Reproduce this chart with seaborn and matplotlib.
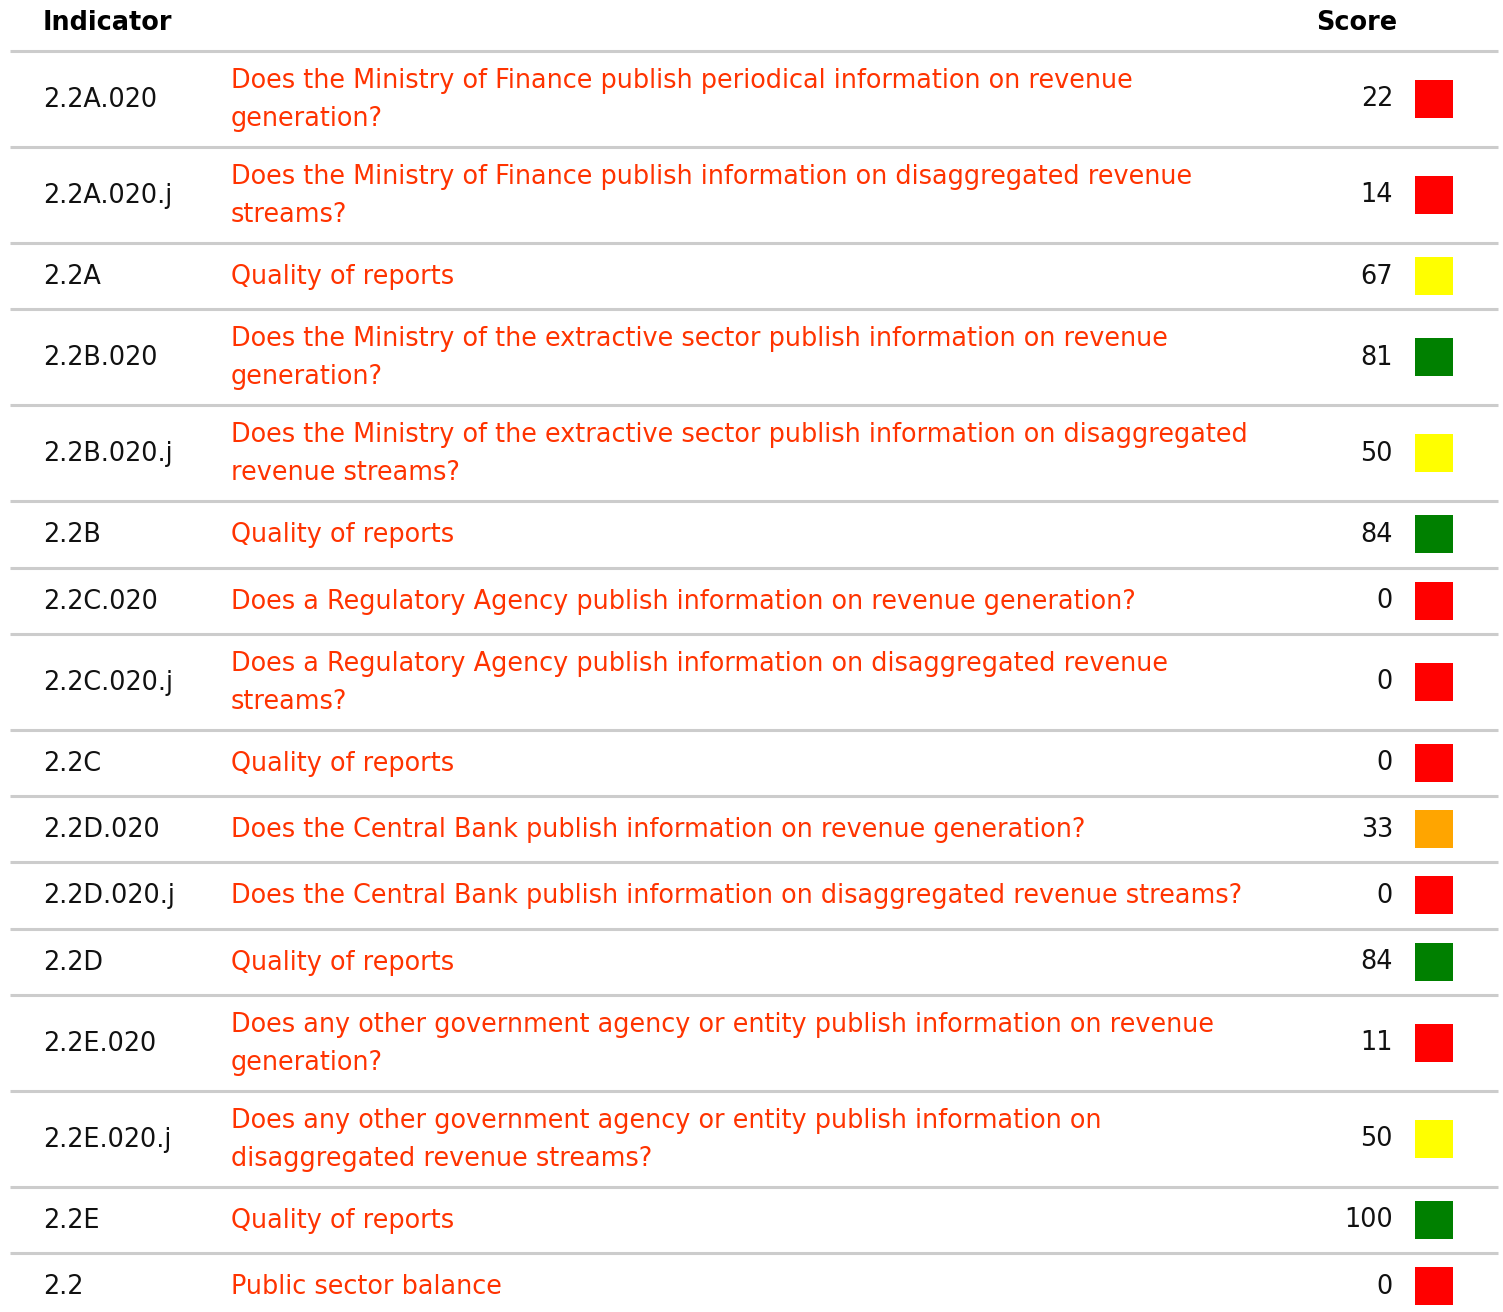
import matplotlib
matplotlib.use("Agg")
import matplotlib.pyplot as plt
import seaborn as sns
import pandas as pd

codes = ["2.2A.020", "2.2A.020.j", "2.2A", "2.2B.020", "2.2B.020.j", "2.2B",
         "2.2C.020", "2.2C.020.j", "2.2C", "2.2D.020", "2.2D.020.j", "2.2D",
         "2.2E.020", "2.2E.020.j", "2.2E", "2.2"]
questions = [
    "Does the Ministry of Finance publish periodical information on revenue\ngeneration?",
    "Does the Ministry of Finance publish information on disaggregated revenue\nstreams?",
    "Quality of reports",
    "Does the Ministry of the extractive sector publish information on revenue\ngeneration?",
    "Does the Ministry of the extractive sector publish information on disaggregated\nrevenue streams?",
    "Quality of reports",
    "Does a Regulatory Agency publish information on revenue generation?",
    "Does a Regulatory Agency publish information on disaggregated revenue\nstreams?",
    "Quality of reports",
    "Does the Central Bank publish information on revenue generation?",
    "Does the Central Bank publish information on disaggregated revenue streams?",
    "Quality of reports",
    "Does any other government agency or entity publish information on revenue\ngeneration?",
    "Does any other government agency or entity publish information on\ndisaggregated revenue streams?",
    "Quality of reports",
    "Public sector balance",
]
scores = [22, 14, 67, 81, 50, 84, 0, 0, 0, 33, 0, 84, 11, 50, 100, 0]
score_colors = ["#ff0000", "#ff0000", "#ffff00", "#008000", "#ffff00", "#008000",
                "#ff0000", "#ff0000", "#ff0000", "#ffa500", "#ff0000", "#008000",
                "#ff0000", "#ffff00", "#008000", "#ff0000"]
header_labels = ["Indicator", "Score"]

W, H = 1503, 1312
fig = plt.figure(figsize=(W / 100, H / 100), dpi=100)
sns.set_style("white")
plt.rcParams['font.family'] = ['DejaVu Sans']
ax = fig.add_axes([0, 0, 1, 1])
ax.set_xlim(0, W)
ax.set_ylim(H, 0)
ax.axis("off")

fs = 18.4
link_color = "#ff3300"
line_color = "#cccccc"
header_h = 51
line_h = 38
h_two, h_one = 96, 66.25

# header
ax.text(43, 23, header_labels[0], fontsize=fs, fontweight="bold", ha="left", va="center", color="black")
ax.text(1397, 23, header_labels[1], fontsize=fs, fontweight="bold", ha="right", va="center", color="black")

tops = []
centers = []
y = header_h
for q in questions:
    n = q.count("\n") + 1
    h = h_two if n == 2 else h_one
    tops.append(y)
    centers.append(y + h / 2)
    y += h

for i, (c, q, s) in enumerate(zip(codes, questions, scores)):
    top = tops[i]
    cy = centers[i]
    ax.plot([10, 1498], [top, top], color=line_color, lw=2.2, solid_capstyle="butt")
    ax.text(43, cy + 1, c, fontsize=fs, ha="left", va="center", color="#111111")
    lines = q.split("\n")
    n = len(lines)
    for k, ln in enumerate(lines):
        ly = cy + 1 + (k - (n - 1) / 2) * line_h
        ax.text(231, ly, ln, fontsize=fs, ha="left", va="center", color=link_color)
    ax.text(1393, cy + 0.5, str(s), fontsize=fs, ha="right", va="center", color="#111111")

df = pd.DataFrame({"x": [1434] * len(scores), "y": centers, "color": score_colors})
sns.scatterplot(data=df, x="x", y="y", hue="color", palette={c: c for c in set(score_colors)},
                marker="s", s=(38 * 0.72) ** 2, linewidth=0, legend=False, ax=ax)
ax.set_xlim(0, W)
ax.set_ylim(H, 0)
ax.axis("off")

fig.savefig("out.png", dpi=100, facecolor="white")
